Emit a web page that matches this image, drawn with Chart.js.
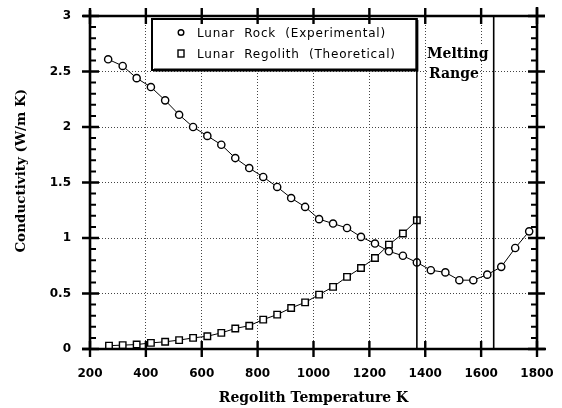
<!DOCTYPE html>
<html><head><meta charset="utf-8">
<script src="https://cdn.jsdelivr.net/npm/chart.js@4.4.1/dist/chart.umd.min.js"></script>
<style>html,body{margin:0;padding:0;background:#fff;}#wrap{width:562px;height:408px;}</style>
</head><body><div id="wrap"><canvas id="c" width="562" height="408"></canvas></div>
<script>
// ---- data ----
const rockTemps = [265,317,367,418,469,519,569,620,670,720,770,820,870,920,970,1020,1070,1120,1170,1220,1270,1320,1370,1420,1472,1522,1572,1622,1672,1722,1772];
const rockConductivity = [2.61,2.55,2.44,2.36,2.24,2.11,2.00,1.92,1.84,1.72,1.63,1.55,1.46,1.36,1.28,1.17,1.13,1.09,1.01,0.95,0.88,0.84,0.78,0.71,0.69,0.62,0.62,0.67,0.74,0.91,1.06];
const regolithTemps = [268,317,367,418,469,519,569,620,670,720,770,820,870,920,970,1020,1070,1120,1170,1220,1270,1320,1370];
const regolithConductivity = [0.03,0.035,0.04,0.055,0.065,0.08,0.10,0.115,0.145,0.185,0.21,0.265,0.31,0.37,0.42,0.49,0.56,0.65,0.73,0.82,0.94,1.04,1.16];
const xTicks = [200,400,600,800,1000,1200,1400,1600,1800];
const yTicks = [0,0.5,1,1.5,2,2.5,3];
const meltingRange = [1370,1645];
const seriesLabels = ['Lunar  Rock  (Experimental)','Lunar  Regolith  (Theoretical)'];
const meltingLabel = ['Melting','Range'];
const xTitle = 'Regolith Temperature K';
const yTitle = 'Conductivity (W/m K)';

const toXY = (xs, ys) => xs.map((x, i) => ({x, y: ys[i]}));

const framePlugin = {
  id: 'frame',
  afterDraw(chart) {
    const ctx = chart.ctx, xs = chart.scales.x, ys = chart.scales.y;
    const L = xs.left, R = xs.right, T = ys.top, B = ys.bottom;
    ctx.save();
    ctx.strokeStyle = '#000';
    ctx.lineCap = 'butt';
    // vertical melting lines
    ctx.lineWidth = 1.6;
    const m0 = xs.getPixelForValue(meltingRange[0]);
    const m1 = xs.getPixelForValue(meltingRange[1]);
    ctx.beginPath(); ctx.moveTo(m0, 70); ctx.lineTo(m0, B); ctx.stroke();
    ctx.beginPath(); ctx.moveTo(m1, T); ctx.lineTo(m1, B); ctx.stroke();
    // legend box
    const lx = 152, ly = 19, lr = m0, lb = 70;
    ctx.fillStyle = '#fff';
    ctx.fillRect(lx, ly, lr - lx, lb - ly);
    ctx.lineWidth = 2;
    ctx.strokeRect(lx, ly, lr - lx, lb - ly);
    ctx.lineWidth = 3;
    ctx.beginPath(); ctx.moveTo(lx + 2, lb); ctx.lineTo(lr, lb); ctx.lineTo(lr, ly + 1); ctx.stroke();
    // legend symbols
    ctx.lineWidth = 1.4;
    ctx.beginPath(); ctx.arc(181, 32.5, 2.8, 0, Math.PI * 2); ctx.stroke();
    ctx.strokeRect(178, 50, 6, 7);
    // legend text
    ctx.fillStyle = '#000';
    ctx.font = '12px "DejaVu Sans"';
    ctx.letterSpacing = '0.8px';
    ctx.textAlign = 'left';
    ctx.textBaseline = 'alphabetic';
    ctx.fillText(seriesLabels[0], 197, 37);
    ctx.fillText(seriesLabels[1], 197, 58);
    ctx.letterSpacing = '0px';
    // melting range text
    ctx.font = 'bold 14px "DejaVu Serif"';
    const w0 = ctx.measureText(meltingLabel[0]).width;
    const w1 = ctx.measureText(meltingLabel[1]).width;
    ctx.fillStyle = '#fff';
    ctx.fillRect(427, 45, w0, 16);
    ctx.fillRect(429, 65, w1, 16);
    ctx.fillStyle = '#000';
    ctx.fillText(meltingLabel[0], 427, 58);
    ctx.fillText(meltingLabel[1], 429, 78);
    // axes frame
    ctx.lineWidth = 2.6;
    ctx.beginPath();
    ctx.moveTo(L - 8, B); ctx.lineTo(R + 9, B);
    ctx.moveTo(L - 7, T); ctx.lineTo(R + 8, T);
    ctx.moveTo(L, T - 6); ctx.lineTo(L, B + 1);
    ctx.moveTo(R, T - 9); ctx.lineTo(R, B + 1);
    ctx.stroke();
    // major ticks x (top and bottom, crossing)
    ctx.lineWidth = 2.4;
    ctx.beginPath();
    xs.ticks.forEach(t => {
      const p = xs.getPixelForValue(t.value);
      ctx.moveTo(p, B - 8); ctx.lineTo(p, B + 8);
      ctx.moveTo(p, T - 8); ctx.lineTo(p, T + 8);
    });
    // major ticks y (left and right, crossing)
    ys.ticks.forEach(t => {
      const p = ys.getPixelForValue(t.value);
      ctx.moveTo(L - 8, p); ctx.lineTo(L + 9, p);
      ctx.moveTo(R - 9, p); ctx.lineTo(R + 8, p);
    });
    ctx.stroke();
    // minor ticks y every 0.1
    ctx.lineWidth = 2;
    ctx.beginPath();
    for (let k = 1; k < 30; k++) {
      if (k % 5 === 0) continue;
      const p = ys.getPixelForValue(k / 10);
      ctx.moveTo(L, p); ctx.lineTo(L + 6, p);
      ctx.moveTo(R - 6, p); ctx.lineTo(R, p);
    }
    ctx.stroke();
    ctx.restore();
  }
};

new Chart(document.getElementById('c'), {
  type: 'scatter',
  data: {
    datasets: [
      {
        label: seriesLabels[0],
        data: toXY(rockTemps, rockConductivity),
        showLine: true,
        borderColor: '#000', borderWidth: 1,
        pointStyle: 'circle', pointRadius: 3.6, pointBorderWidth: 1.4,
        pointBackgroundColor: '#fff', pointBorderColor: '#000'
      },
      {
        label: seriesLabels[1],
        data: toXY(regolithTemps, regolithConductivity),
        showLine: true,
        borderColor: '#000', borderWidth: 1,
        pointStyle: 'rect', pointRadius: 4.6, pointBorderWidth: 1.4,
        pointBackgroundColor: '#fff', pointBorderColor: '#000'
      }
    ]
  },
  options: {
    responsive: false, animation: false, devicePixelRatio: 1,
    layout: { padding: { left: 0, top: 16, right: 25, bottom: 0 } },
    plugins: { legend: { display: false }, tooltip: { enabled: false } },
    scales: {
      x: {
        type: 'linear', min: 200, max: 1800,
        afterBuildTicks: s => { s.ticks = xTicks.map(v => ({ value: v })); },
        afterFit: s => { s.height = 59; s.paddingLeft = 0; s.paddingRight = 0; },
        ticks: { padding: 18, color: '#000', font: { family: 'DejaVu Sans', size: 12, weight: 'bold' }, callback: v => String(v) },
        grid: { color: '#444', lineWidth: 1, drawTicks: false },
        border: { display: false, dash: [1, 2] },
        title: { display: true, text: xTitle, color: '#000', font: { family: 'DejaVu Serif', size: 14, weight: 'bold' }, padding: { top: 0, bottom: 1 } }
      },
      y: {
        type: 'linear', min: 0, max: 3,
        afterBuildTicks: s => { s.ticks = yTicks.map(v => ({ value: v })); },
        afterFit: s => { s.width = 90; s.paddingTop = 0; s.paddingBottom = 0; },
        ticks: { padding: 19, color: '#000', font: { family: 'DejaVu Sans', size: 12, weight: 'bold' }, callback: v => String(v) },
        grid: { color: '#444', lineWidth: 1, drawTicks: false },
        border: { display: false, dash: [1, 2] },
        title: { display: true, text: '     ' + yTitle, color: '#000', font: { family: 'DejaVu Serif', size: 13.5, weight: 'bold' }, padding: { top: 13, bottom: 0 } }
      }
    }
  },
  plugins: [framePlugin]
});
</script>
</body></html>
